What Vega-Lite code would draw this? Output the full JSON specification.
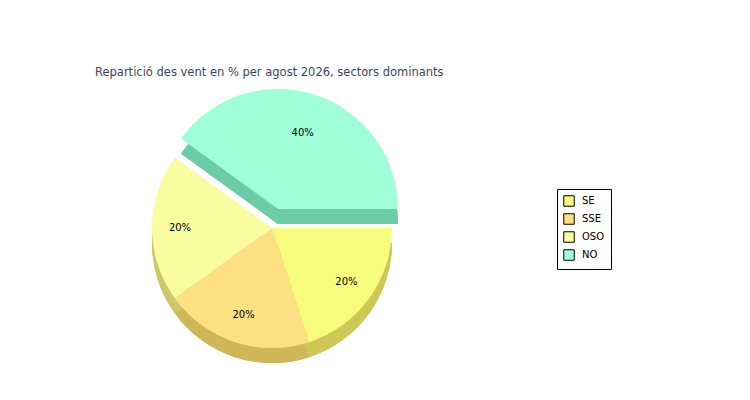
{
  "$schema": "https://vega.github.io/schema/vega-lite/v6.json",
  "width": 544,
  "height": 260,
  "padding": {"left": 0, "top": 66, "right": 206, "bottom": 0},
  "background": "white",
  "title": {
    "text": "Repartició des vent en % per agost 2026, sectors dominants",
    "anchor": "start",
    "frame": "group",
    "dx": 95,
    "offset": 11,
    "font": "DejaVu Sans",
    "fontSize": 11.5,
    "fontWeight": "normal",
    "color": "#3a4560"
  },
  "config": {"view": {"stroke": null}},
  "data": {
    "values": [
      {"sector": "SE", "share": 0.2, "ord": 1},
      {"sector": "SSE", "share": 0.2, "ord": 2},
      {"sector": "OSO", "share": 0.2, "ord": 3},
      {"sector": "NO", "share": 0.4, "ord": 4}
    ]
  },
  "encoding": {
    "theta": {"field": "share", "type": "quantitative", "stack": true, "scale": {"range": [1.5708, 7.854]}},
    "order": {"field": "ord", "type": "ordinal"}
  },
  "layer": [
    {
      "mark": {"type": "arc", "radius": 120, "yOffset": 15, "color": "#8a7c18"},
      "encoding": {
        "opacity": {"condition": {"test": "datum.sector === 'NO'", "value": 0}, "value": 1}
      }
    },
    {
      "mark": {"type": "arc", "radius": 120, "yOffset": 15},
      "encoding": {
        "color": {"field": "sector", "type": "nominal",
          "scale": {"domain": ["SE", "SSE", "OSO", "NO"], "range": ["#f8fc7c", "#fde082", "#fafca0", "#a0ffd8"]},
          "legend": {
            "title": null, "orient": "none", "legendX": 557, "legendY": 91,
            "strokeColor": "black", "fillColor": "white", "padding": 6,
            "symbolType": "square", "symbolSize": 110, "symbolStrokeColor": "black", "symbolStrokeWidth": 1,
            "symbolOpacity": 1, "labelFont": "DejaVu Sans", "labelFontSize": 10, "labelColor": "black",
            "rowPadding": 2, "labelOffset": 7
          }},
        "opacity": {"condition": {"test": "datum.sector === 'NO'", "value": 0}, "value": 0.6}
      }
    },
    {
      "mark": {"type": "arc", "radius": 120},
      "encoding": {
        "color": {"field": "sector", "type": "nominal"},
        "opacity": {"condition": {"test": "datum.sector === 'NO'", "value": 0}, "value": 1}
      }
    },
    {
      "mark": {"type": "arc", "radius": 120, "xOffset": 6, "yOffset": -4, "color": "#1e8060"},
      "encoding": {
        "opacity": {"condition": {"test": "datum.sector === 'NO'", "value": 1}, "value": 0}
      }
    },
    {
      "mark": {"type": "arc", "radius": 120, "xOffset": 6, "yOffset": -4},
      "encoding": {
        "color": {"field": "sector", "type": "nominal"},
        "opacity": {"condition": {"test": "datum.sector === 'NO'", "value": 0.6}, "value": 0}
      }
    },
    {
      "mark": {"type": "arc", "radius": 120, "xOffset": 6, "yOffset": -19},
      "encoding": {
        "color": {"field": "sector", "type": "nominal"},
        "opacity": {"condition": {"test": "datum.sector === 'NO'", "value": 1}, "value": 0}
      }
    },
    {
      "mark": {"type": "text", "radius": 92, "font": "DejaVu Sans", "fontSize": 10, "color": "black"},
      "encoding": {
        "text": {"field": "share", "type": "quantitative", "format": ".0%"},
        "opacity": {"condition": {"test": "datum.sector === 'NO'", "value": 0}, "value": 1}
      }
    },
    {
      "mark": {"type": "text", "radius": 80, "xOffset": 6, "yOffset": -19, "font": "DejaVu Sans", "fontSize": 10, "color": "black"},
      "encoding": {
        "text": {"field": "share", "type": "quantitative", "format": ".0%"},
        "opacity": {"condition": {"test": "datum.sector === 'NO'", "value": 1}, "value": 0}
      }
    }
  ]
}
